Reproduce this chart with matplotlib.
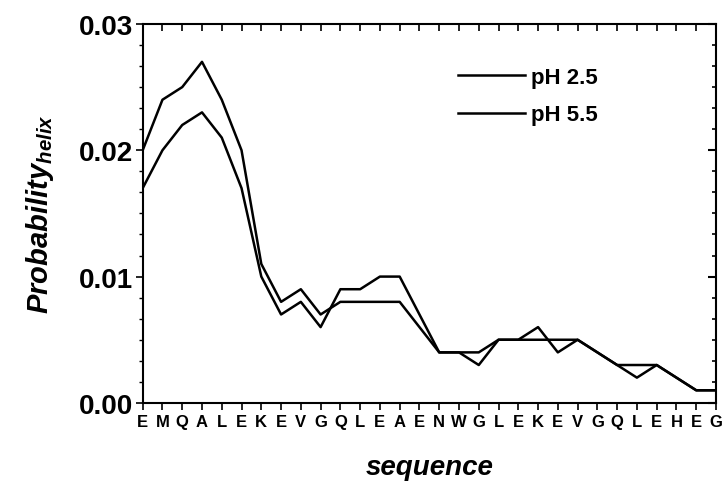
import matplotlib
matplotlib.use("Agg")
import matplotlib.pyplot as plt
from matplotlib.ticker import AutoMinorLocator

plt.rcParams['font.family'] = ['Liberation Sans', 'DejaVu Sans']
plt.rcParams['font.weight'] = 'bold'
plt.rcParams['mathtext.fontset'] = 'custom'
plt.rcParams['mathtext.bf'] = 'Liberation Sans:bold:italic'

residues = list("EMQALEKEVGQLEAENWGLEKEVGQLEHEG")
ph25 = [0.020, 0.024, 0.025, 0.027, 0.024, 0.020, 0.011, 0.008, 0.009, 0.007,
        0.008, 0.008, 0.008, 0.008, 0.006, 0.004, 0.004, 0.004, 0.005, 0.005,
        0.005, 0.005, 0.005, 0.004, 0.003, 0.003, 0.003, 0.002, 0.001, 0.001]
ph55 = [0.017, 0.020, 0.022, 0.023, 0.021, 0.017, 0.010, 0.007, 0.008, 0.006,
        0.009, 0.009, 0.010, 0.010, 0.007, 0.004, 0.004, 0.003, 0.005, 0.005,
        0.006, 0.004, 0.005, 0.004, 0.003, 0.002, 0.003, 0.002, 0.001, 0.001]
labels = ["pH 2.5", "pH 5.5"]
yticks = [0.0, 0.01, 0.02, 0.03]
ytick_labels = ["0.00", "0.01", "0.02", "0.03"]

fig = plt.figure(figsize=(7.28, 4.89), dpi=100)
ax = fig.add_axes([0.196, 0.174, 0.7875, 0.775])

pos = list(range(len(residues)))
ax.plot(pos, ph25, color='black', lw=1.8, label=labels[0])
ax.plot(pos, ph55, color='black', lw=1.8, label=labels[1])

ax.set_xlim(0, len(residues) - 1)
ax.set_ylim(0, 0.03)
ax.set_xticks(pos)
ax.set_xticklabels(residues, fontsize=12, fontweight='bold')
ax.set_yticks(yticks)
ax.set_yticklabels(ytick_labels, fontsize=20, fontweight='bold')
ax.yaxis.set_minor_locator(AutoMinorLocator(6))

ax.tick_params(axis='x', which='major', direction='out', length=5, width=1.2, pad=3,
               top=False)
ax.tick_params(axis='y', which='major', direction='out', length=5, width=1.2, pad=2,
               right=False)
ax.tick_params(axis='y', which='minor', direction='out', length=3, width=1, right=False)

# inward ticks on the top and right frames
sec = ax.secondary_xaxis('top')
sec.set_xticks(pos)
sec.tick_params(direction='in', length=5, width=1.2, labeltop=False)
sec.spines['top'].set_visible(False)
sec2 = ax.secondary_yaxis('right')
sec2.set_yticks(yticks)
sec2.yaxis.set_minor_locator(AutoMinorLocator(6))
sec2.tick_params(which='major', direction='in', length=6, width=1.5, labelright=False)
sec2.tick_params(which='minor', direction='in', length=3, width=1.2)
sec2.spines['right'].set_visible(False)

for s in ax.spines.values():
    s.set_linewidth(1.5)

ax.set_xlabel("sequence", fontsize=20, fontweight='bold', style='italic', labelpad=18)
ax.set_ylabel(r"$\mathbf{Probability}_{\mathbf{helix}}$", fontsize=21, labelpad=16)

leg = ax.legend(loc='upper left', bbox_to_anchor=(0.515, 0.94), frameon=False,
                fontsize=16, handlelength=3.0, handletextpad=0.3, labelspacing=0.75)
for t in leg.get_texts():
    t.set_fontweight('bold')

fig.savefig("out.png", dpi=100)
